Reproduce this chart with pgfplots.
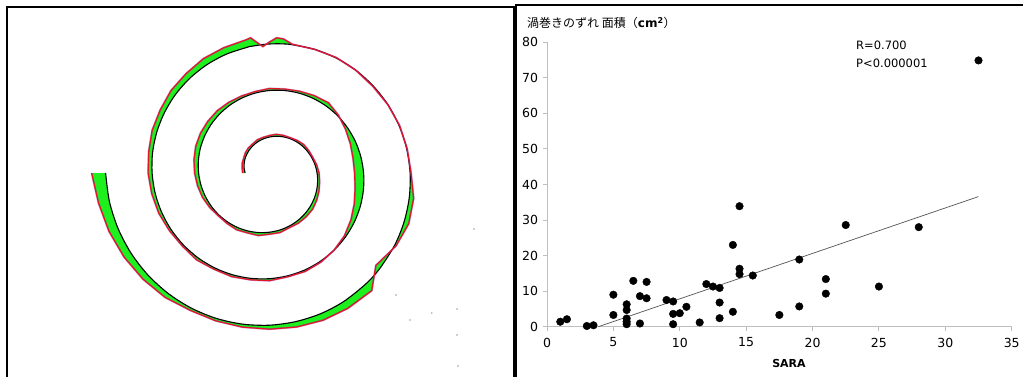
\documentclass[border=0pt]{standalone}
\usepackage{pgfplots}
\pgfplotsset{compat=1.18}
\usepackage{pgfplotstable}
\usepgfplotslibrary{fillbetween}
\usepackage{fontspec}
\setmainfont{DejaVu Sans}
\newfontfamily\cjk{Noto Sans CJK JP}
\definecolor{spgreen}{RGB}{30,240,30}
\definecolor{spred}{RGB}{230,20,40}
\definecolor{sppurple}{RGB}{120,40,170}
\definecolor{axgray}{RGB}{190,190,190}

\pgfplotstableread{
phi rb d
-90 24.4 2.5
-80 25.7 2
-70 27.0 2
-60 28.3 1.5
-50 29.5 2
-40 30.8 2
-30 32.1 1.5
-20 33.4 2
-10 34.7 1.5
0 36.0 1.5
10 37.3 2
20 38.6 1.5
30 39.9 1
40 41.2 1.5
50 42.5 2
60 43.7 1.5
70 45.0 1
80 46.3 1.5
90 47.6 2
100 48.9 2
110 50.2 2.5
120 51.5 3
130 52.8 3.5
140 54.1 3
150 55.4 2.5
160 56.7 1.5
170 58.0 2.5
180 59.2 2
190 60.5 3
200 61.8 2
210 63.1 2.5
220 64.4 1.5
230 65.7 1
240 67.0 2
250 68.3 3
260 69.6 3.5
270 70.9 4
280 72.2 4.5
290 73.5 5
300 74.7 5
310 76.0 4.5
320 77.3 4
330 78.6 3
340 79.9 2
350 81.2 1.5
360 82.5 2
370 83.8 1.5
380 85.1 2
390 86.4 3
400 87.7 4
410 89.0 1
420 90.2 -2.5
430 91.5 -5.5
440 92.8 -8
450 94.1 -9
460 95.4 -8.5
470 96.7 -6.5
480 98.0 -4
490 99.3 -1.5
500 100.6 0
510 101.9 1
520 103.2 1.5
530 104.4 1
540 105.7 2
550 107.0 1.5
560 108.3 2
570 109.6 1.5
580 110.9 2.5
590 112.2 1.5
600 113.5 2
610 114.8 3
620 116.1 3.5
630 117.4 4
640 118.7 4
650 119.9 5
660 121.2 5
670 122.5 6
680 123.8 6
690 125.1 7
700 126.4 7
710 127.7 7.5
712 128.0 8.5
717 128.6 -2
720 129.0 2
723 129.4 6
726 129.8 5
730 130.3 0.5
740 131.6 0
750 132.9 0.5
760 134.2 0
770 135.4 -0.5
780 136.7 0
790 138.0 0.5
800 139.3 0.5
810 140.6 1
820 141.9 4.5
830 143.2 5
840 144.5 1.5
851 145.9 -5
859 146.9 9
870 148.4 8
880 149.7 7
890 150.9 5.5
900 152.2 4
910 153.5 3
920 154.8 2.5
930 156.1 2.5
940 157.4 5
950 158.7 6.5
960 160.0 8
970 161.3 9.5
980 162.6 11
990 163.9 14
}\spiral

\pgfplotstableread{
x y
1 1.4
1.5 2.1
3 0.2
3.5 0.4
5 9.0
5 3.3
6 6.3
6 4.7
6 2.3
6 1.4
6 0.7
6.5 12.9
7 8.6
7 0.9
7.5 12.6
7.5 8.0
9 7.5
9.5 7.1
9.5 3.6
9.5 0.7
10 3.8
10.5 5.6
11.5 1.2
12 12.0
12.5 11.3
13 10.9
13 6.8
13 2.4
14 23.0
14 4.2
14.5 33.9
14.5 16.3
14.5 14.8
15.5 14.4
17.5 3.3
19 18.9
19 5.7
21 13.4
21 9.3
22.5 28.6
25 11.3
28 28.0
32.5 74.9
}\scatterdata

\begin{document}
\begin{tikzpicture}[x=1pt,y=1pt]
% ---------- left panel: spiral ----------
\begin{axis}[at={(0pt,0pt)},anchor=south west,scale only axis,
  width=515pt,height=376pt,xmin=0,xmax=515,ymin=0,ymax=376,
  axis lines=none,clip=false]
\addplot[draw=none,smooth,name path=B] table[x expr={269.5+\thisrow{rb}*sin(\thisrow{phi})},
   y expr={203+\thisrow{rb}*cos(\thisrow{phi})}]{\spiral};
\addplot[draw=none,name path=R] table[x expr={269.5+(\thisrow{rb}+\thisrow{d})*sin(\thisrow{phi})},
   y expr={203+(\thisrow{rb}+\thisrow{d})*cos(\thisrow{phi})}]{\spiral};
\addplot[spgreen] fill between[of=B and R];
\addplot[black,smooth,line width=1.1pt] table[x expr={269.5+\thisrow{rb}*sin(\thisrow{phi})},
   y expr={203+\thisrow{rb}*cos(\thisrow{phi})}]{\spiral};
\addplot[sppurple,line width=2pt,opacity=0.4] table[x expr={269.5+(\thisrow{rb}+\thisrow{d})*sin(\thisrow{phi})},
   y expr={203+(\thisrow{rb}+\thisrow{d})*cos(\thisrow{phi})}]{\spiral};
\addplot[spred,line width=1.2pt] table[x expr={269.5+(\thisrow{rb}+\thisrow{d})*sin(\thisrow{phi})},
   y expr={203+(\thisrow{rb}+\thisrow{d})*cos(\thisrow{phi})}]{\spiral};
\addplot[only marks,mark=*,mark size=0.6pt,gray!60] coordinates
  {(396,81) (410,56) (431.7,63) (457,67) (457,41) (458,10) (474,147)};
\end{axis}
\draw[line width=2pt] (7,-5) -- (7,369.3) -- (514,369.3) -- (514,-5);
\draw[line width=1.5pt] (516,-5) -- (516,371) -- (1030,371);

% ---------- right panel: scatter ----------
\begin{axis}[at={(547pt,49.3pt)},anchor=south west,scale only axis,
  width=464.7pt,height=284.4pt,xmin=0,xmax=35,ymin=0,ymax=80,
  axis lines*=left,
  axis line style={axgray,line width=1pt},
  tick style={axgray,line width=1pt},
  tick align=outside, major tick length=4.5pt,
  xtick={0,5,...,35}, ytick={0,10,...,80},
  minor tick num=0,
  tick label style={font=\fontsize{12.5}{14}\selectfont},
  xticklabel style={yshift=-3pt},
  yticklabel style={xshift=-1pt},
  /pgf/number format/assume math mode=true,
  clip=false]
\addplot[gray!65!black,line width=0.7pt] coordinates {(3.87,0) (32.5,36.6)};
\addplot[only marks,mark=*,mark size=3.8pt,black] table {\scatterdata};
\end{axis}
\node[anchor=west,font=\fontsize{12}{14}\selectfont,inner sep=0pt] at (527,352.7)
  {\cjk 渦巻きのずれ 面積（{\normalfont\bfseries cm\textsuperscript{2}}）};
\node[anchor=west,font=\fontsize{11.5}{13}\selectfont,inner sep=0pt] at (856,330.3) {R=0.700};
\node[anchor=west,font=\fontsize{11.5}{13}\selectfont,inner sep=0pt] at (856,313) {P<0.000001};
\node[font=\bfseries\fontsize{11}{12}\selectfont,inner sep=0pt] at (789,13) {SARA};

\pgfresetboundingbox
\path[use as bounding box] (0,0) rectangle (1023,376);
\end{tikzpicture}
\end{document}
